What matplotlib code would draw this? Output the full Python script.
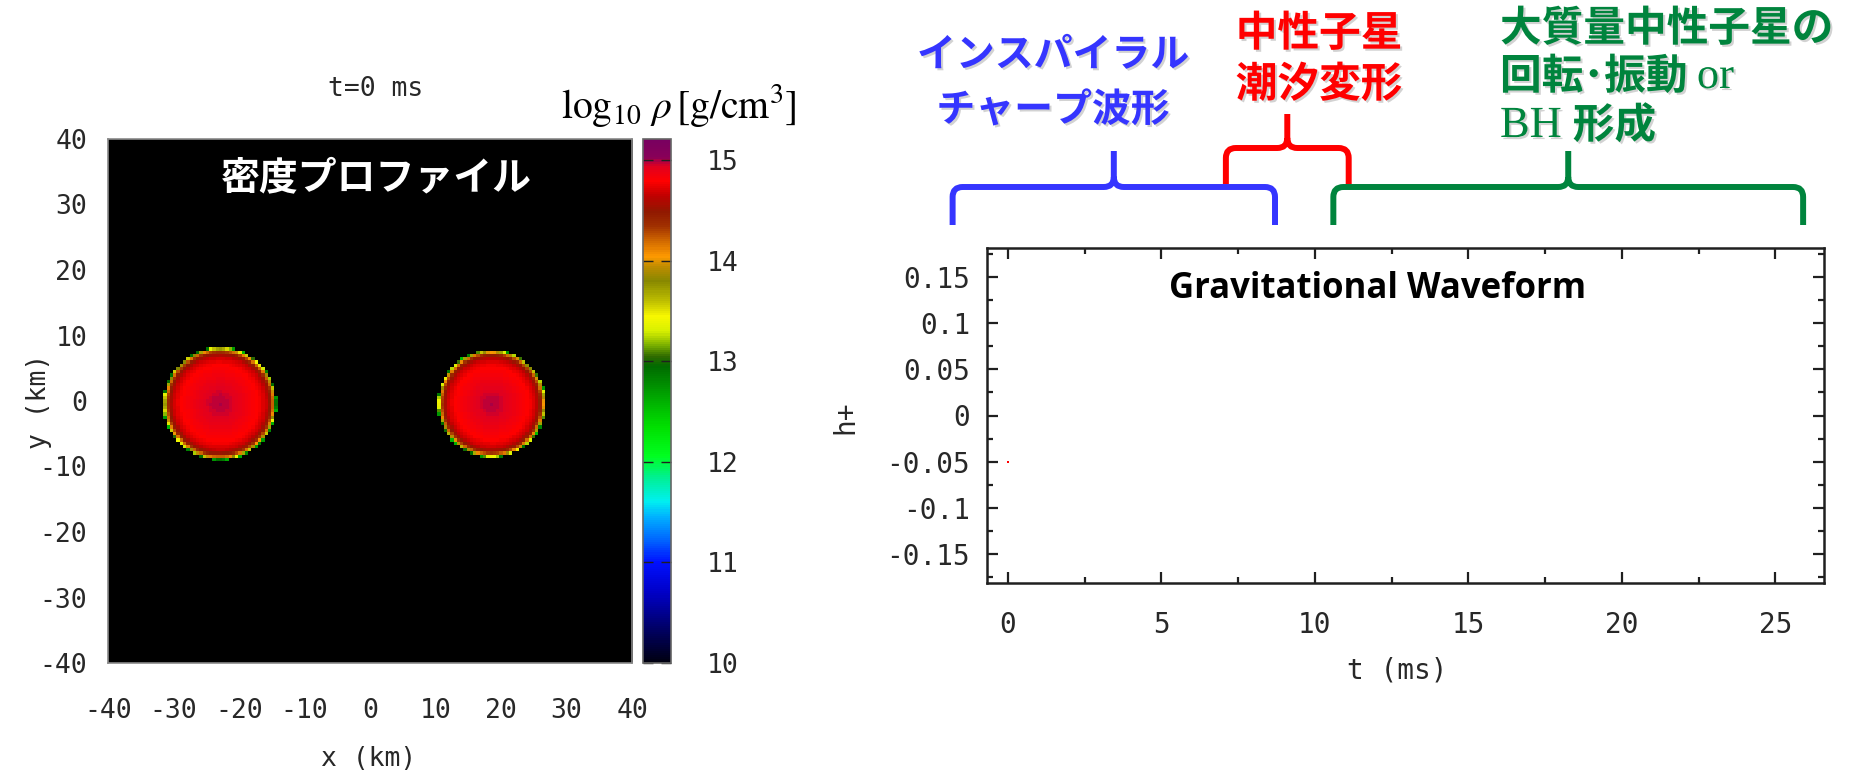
import numpy as np
import matplotlib
matplotlib.use('Agg')
import matplotlib.pyplot as plt
import matplotlib.patheffects as pe
from matplotlib.colors import LinearSegmentedColormap
from matplotlib.path import Path
from matplotlib.patches import PathPatch

plt.rcParams['mathtext.fontset'] = 'stix'
plt.rcParams['axes.unicode_minus'] = False

W, H = 1860, 774
MONO = 'DejaVu Sans Mono'
JP = 'Noto Sans CJK JP'

# --- density snapshot at t = 0 ---
star_x = [-23.1, 18.6]      # km
star_y = [-0.4, -0.4]
star_r = [8.7, 8.3]
prof_r = [0.0, 0.15, 0.3, 0.5, 0.7, 0.82, 0.9, 0.95, 0.975, 1.0]       # r / R
prof_logrho = [14.99, 14.97, 14.92, 14.85, 14.78, 14.66, 14.45, 14.1, 13.5, 12.5]
xy_ticks = [-40, -30, -20, -10, 0, 10, 20, 30, 40]
cb_ticks = [10, 11, 12, 13, 14, 15]
RHO_MIN, RHO_MAX = 10.0, 15.21

# colour table of the density scale
cm_vals = [10.0, 10.35, 10.7, 11.0, 11.2, 11.45, 11.6, 11.85, 12.05, 12.35,
           12.6, 12.95, 13.05, 13.15, 13.3, 13.45, 13.6, 13.8, 13.95, 14.05,
           14.2, 14.35, 14.5, 14.65, 14.8, 14.95, 15.0, 15.03, 15.21]
cm_cols = ['#000010', '#00006a', '#0000c8', '#0010ff', '#0060ff', '#00b0ff',
           '#00f0f0', '#00f090', '#00ff20', '#00e000', '#00b000', '#006a00',
           '#306a00', '#70a800', '#d8f000', '#f8f800', '#c0c000', '#888800',
           '#c08c00', '#ff9a00', '#d06800', '#a03000', '#901800', '#c00000',
           '#ff0000', '#e00020', '#b00040', '#880058', '#780060']

# --- gravitational waveform so far ---
t_ms = [0.0]
h_plus = [-0.05]
t_ticks = [0, 5, 10, 15, 20, 25]
h_ticks = [-0.15, -0.1, -0.05, 0, 0.05, 0.1, 0.15]
h_labels = ['-0.15', '-0.1', '-0.05', '0', '0.05', '0.1', '0.15']

# phases marked above the waveform (t in ms)
phase_lines = [['インスパイラル', 'チャープ波形'], ['中性子星', '潮汐変形']]
phase_start = [-1.8, 7.1, 10.6]
phase_end = [8.7, 11.1, 25.9]
phase_cols = ['#3535ff', '#ff0000', '#00843d']

shadow = [pe.SimplePatchShadow(offset=(1.5, -1.5), shadow_rgbFace='#808080', alpha=0.35),
          pe.Normal()]


def fx(x):
    return x / W


def fy(y):
    return 1 - y / H


fig = plt.figure(figsize=(W / 100, H / 100), dpi=100)

# ---------- left: density profile ----------
ax = fig.add_axes([fx(108), fy(663), fx(632) - fx(108), fy(139) - fy(663)])
grid = np.linspace(-40, 40, 161)
gx, gy = np.meshgrid(grid, grid)
rho = np.full(gx.shape, 9.0)
for cx, cy, R in zip(star_x, star_y, star_r):
    d = np.hypot(gx - cx, gy - cy) / R
    inside = d <= 1.0
    rho[inside] = np.interp(d[inside], prof_r, prof_logrho)

pos = [(v - RHO_MIN) / (RHO_MAX - RHO_MIN) for v in cm_vals]
pos[0], pos[-1] = 0.0, 1.0
cmap = LinearSegmentedColormap.from_list('dens', list(zip(pos, cm_cols)))
cmap.set_under('black')
im = ax.imshow(rho, origin='lower', extent=[-40, 40, -40, 40], cmap=cmap,
               vmin=RHO_MIN, vmax=RHO_MAX, interpolation='nearest', aspect='auto')
ax.set_xlim(-40, 40)
ax.set_ylim(-40, 40)
ax.set_xticks(xy_ticks)
ax.set_yticks(xy_ticks)
ax.set_xticklabels([str(v) for v in xy_ticks])
ax.set_yticklabels([str(v) for v in xy_ticks])
ax.tick_params(length=0, labelsize=19, labelcolor='#282828')
ax.tick_params(axis='x', pad=25)
ax.tick_params(axis='y', pad=15)
for lab in ax.get_xticklabels() + ax.get_yticklabels():
    lab.set_family(MONO)
for s in ax.spines.values():
    s.set_color('#8a8a8a')
    s.set_linewidth(1.2)
ax.text(0.513, 0.9256, '密度プロファイル', transform=ax.transAxes, color='white',
        fontsize=28, fontweight='bold', family=JP, ha='center', va='center')
ax.text(0.51, 1.095, 't=0 ms', transform=ax.transAxes, family=MONO,
        fontsize=19, color='#282828', ha='center', va='center')
fig.text(fx(39), fy(401), 'y (km)', rotation=90, family=MONO, fontsize=19,
         color='#282828', ha='center', va='center')
fig.text(fx(369), fy(759), 'x (km)', family=MONO, fontsize=19,
         color='#282828', ha='center', va='center')

cax = fig.add_axes([fx(643), fy(663), fx(671) - fx(643), fy(139) - fy(663)])
cb = fig.colorbar(im, cax=cax, ticks=cb_ticks)
cb.outline.set_edgecolor('#666666')
cb.outline.set_linewidth(1.2)
cax.tick_params(direction='in', left=True, right=True, length=7, width=1,
                color='#202020', labelsize=19, labelcolor='#282828', pad=26)
cax.set_yticklabels([str(v) for v in cb_ticks])
for lab in cax.get_yticklabels():
    lab.set_family(MONO)
fig.text(fx(679), fy(106), r'$\log_{10}\,\rho\,[\mathrm{g/cm^3}]$',
         fontsize=28.5, color='black', ha='center', va='center')

# ---------- right: waveform ----------
ax2 = fig.add_axes([fx(987), fy(583), fx(1824) - fx(987), fy(248) - fy(583)])
ax2.plot(t_ms, h_plus, 's', color='red', markersize=1.6, markeredgewidth=0)
ax2.set_xlim(-0.68, 26.58)
ax2.set_ylim(-0.1814, 0.1814)
ax2.set_xticks(t_ticks)
ax2.set_xticklabels([str(v) for v in t_ticks])
ax2.set_yticks(h_ticks)
ax2.set_yticklabels(h_labels)
ax2.set_xticks(np.arange(0.0, 26.0, 2.5), minor=True)
ax2.set_yticks(np.arange(-0.175, 0.18, 0.025), minor=True)
ax2.tick_params(which='both', direction='in', top=True, right=True,
                color='#202020', width=1.6)
ax2.tick_params(which='major', length=8)
ax2.tick_params(which='minor', length=4.5)
ax2.tick_params(axis='x', which='major', pad=20, labelsize=20, labelcolor='#282828')
ax2.tick_params(axis='y', which='major', pad=12, labelsize=20, labelcolor='#282828')
for lab in ax2.get_xticklabels() + ax2.get_yticklabels():
    lab.set_family(MONO)
for s in ax2.spines.values():
    s.set_color('#202020')
    s.set_linewidth(1.8)
ax2.text(0.467, 0.878, 'Gravitational Waveform', transform=ax2.transAxes,
         family='Open Sans', fontweight='bold', fontsize=25, ha='center',
         va='center', color='black')
fig.text(fx(845), fy(417), 'h+', rotation=90, family=MONO, fontsize=20,
         color='#282828', ha='center', va='center')
fig.text(fx(1397), fy(670), 't (ms)', family=MONO, fontsize=20,
         color='#282828', ha='center', va='center')

# ---------- phase braces ----------
fig.canvas.draw()
renderer = fig.canvas.get_renderer()


def brace(t0, t1, y_end, y_bar, y_tip, color, rc=10):
    # pixel y measured from the top of the image
    xl = ax2.transData.transform((t0, 0))[0]
    xr = ax2.transData.transform((t1, 0))[0]
    xm = 0.5 * (xl + xr)
    ye, yb, yt = H - y_end, H - y_bar, H - y_tip
    verts = [(xl, ye), (xl, yb - rc), (xl, yb), (xl + rc, yb),
             (xm - rc, yb), (xm, yb), (xm, yb + rc), (xm, yt),
             (xm, yb + rc), (xm, yb), (xm + rc, yb),
             (xr - rc, yb), (xr, yb), (xr, yb - rc), (xr, ye)]
    codes = [Path.MOVETO, Path.LINETO, Path.CURVE3, Path.CURVE3,
             Path.LINETO, Path.CURVE3, Path.CURVE3, Path.LINETO,
             Path.MOVETO, Path.CURVE3, Path.CURVE3,
             Path.LINETO, Path.CURVE3, Path.CURVE3, Path.LINETO]
    p = PathPatch(Path(verts, codes), fill=False, edgecolor=color, lw=4.3,
                  capstyle='butt', joinstyle='round', transform=None)
    fig.patches.append(p)
    p.set_figure(fig)


brace(phase_start[0], phase_end[0], 225, 187, 151, phase_cols[0])
brace(phase_start[1], phase_end[1], 184, 148, 114, phase_cols[1])
brace(phase_start[2], phase_end[2], 225, 187, 151, phase_cols[2])

for i, (cx, ys, size) in enumerate([(1053, [55, 110], 28), (1319, [34, 85], 30)]):
    for line, y in zip(phase_lines[i], ys):
        fig.text(fx(cx), fy(y), line, family=JP, fontweight='bold',
                 fontsize=size, color=phase_cols[i], ha='center', va='center',
                 path_effects=shadow)


def run_text(x, y, parts, color):
    # draw consecutive pieces of one line, each in its own font
    for s, fam, wt, size in parts:
        t = fig.text(fx(x), fy(y), s, family=fam, fontweight=wt, fontsize=size,
                     color=color, ha='left', va='center', path_effects=shadow)
        x += t.get_window_extent(renderer).width


run_text(1500, 29, [('大質量中性子星の', JP, 'bold', 30)], phase_cols[2])
run_text(1500, 77, [('回転･振動 ', JP, 'bold', 30),
                    ('or', 'Liberation Serif', 'normal', 32)], phase_cols[2])
run_text(1500, 126, [('BH ', 'Liberation Serif', 'normal', 32),
                     ('形成', JP, 'bold', 30)], phase_cols[2])

fig.savefig('out.png', dpi=100)
